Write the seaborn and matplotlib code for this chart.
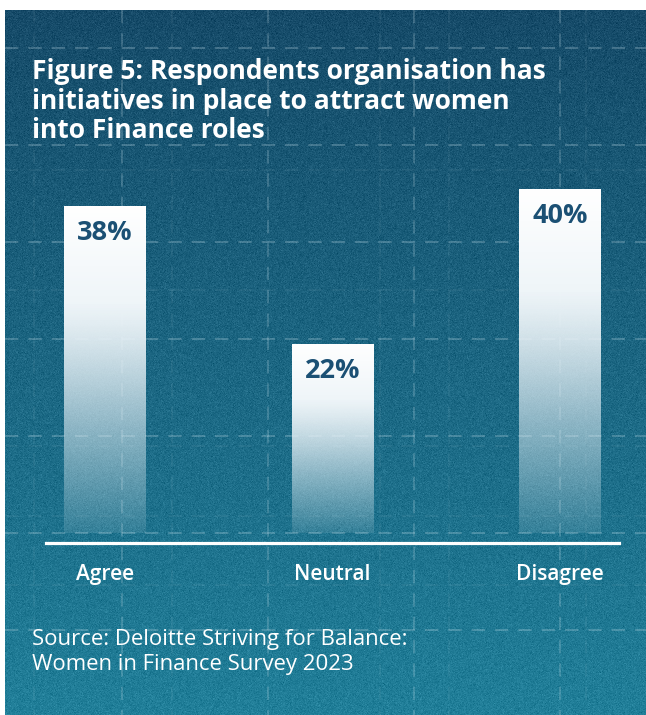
import numpy as np
import pandas as pd
import matplotlib
matplotlib.use("Agg")
import matplotlib.pyplot as plt
import seaborn as sns

# ---- data -------------------------------------------------------------
categories = ["Agree", "Neutral", "Disagree"]
shares = [38, 22, 40]
value_labels = ["38%", "22%", "40%"]
title_text = ("Figure 5: Respondents organisation has\n"
              "initiatives in place to attract women\n"
              "into Finance roles")
source_text = ("Source: Deloitte Striving for Balance:\n"
               "Women in Finance Survey 2023")

# ---- canvas -----------------------------------------------------------
W, H, DPI = 646, 715, 100
sns.set_theme(style="white")
plt.rcParams["font.family"] = ["Open Sans", "DejaVu Sans"]

fig = plt.figure(figsize=(W / DPI, H / DPI), dpi=DPI, facecolor="white")

# teal panel with a vertical gradient and fine grain
PX0, PY0 = 5, 10
bg = fig.add_axes([PX0 / W, 0, (W - PX0) / W, (H - PY0) / H])
bg.set_axis_off()
rows, cols = H - PY0, W - PX0
t = np.linspace(0, 1, rows)[:, None, None]
top = np.array([22, 74, 104]) / 255
bottom = np.array([33, 127, 153]) / 255
grad = top + (bottom - top) * t ** 0.9
rng = np.random.default_rng(7)
grain = rng.normal(0, 0.025, (rows, cols, 1))
panel = np.clip(np.broadcast_to(grad, (rows, cols, 3)) + grain, 0, 1)
bg.imshow(panel, extent=(PX0, W, H, PY0), aspect="auto", interpolation="nearest")

# dashed paper grid
grid_kw = dict(color="#cfe6f0", lw=1.2, dashes=(8, 6))
for gx in [122, 268, 414, 560]:
    bg.plot([gx, gx], [PY0, H], alpha=0.25, **grid_kw)
for gy in [48, 145, 242, 339, 436, 533, 630]:
    bg.plot([PX0, W], [gy, gy], alpha=0.30, **grid_kw)
for gx in [34, 172, 380, 449, 586]:
    bg.plot([gx, gx], [PY0, H], alpha=0.08, **grid_kw)
for gy in [170, 290, 446, 516, 585]:
    bg.plot([PX0, W], [gy, gy], alpha=0.08, **grid_kw)
bg.set_xlim(PX0, W)
bg.set_ylim(H, PY0)

# ---- bar chart --------------------------------------------------------
AX_L, AX_R, AX_T, AX_B = 46, 619, 150, 543
ax = fig.add_axes([AX_L / W, (H - AX_B) / H, (AX_R - AX_L) / W, (AX_B - AX_T) / H])
ax.patch.set_alpha(0)

df = pd.DataFrame({"category": categories, "share": shares})
sns.barplot(data=df, x="category", y="share", order=categories, width=0.36,
            color="white", saturation=1, ax=ax, linewidth=0)

# white-to-clear fill for each bar
n = 256
tt = np.linspace(0, 1, n)
tint = np.clip(tt / 0.7, 0, 1)[:, None]
rgb = np.array([1, 1, 1]) * (1 - tint) + np.array([0.85, 0.91, 0.94]) * tint
alpha = np.where(tt < 0.3, 1.0, 1 - 0.88 * ((tt - 0.3) / 0.7) ** 1.3)
fill = np.concatenate([rgb, alpha[:, None]], axis=1)[:, None, :].repeat(2, axis=1)
for patch in ax.patches:
    x0, y0 = patch.get_x(), patch.get_y()
    w, h = patch.get_width(), patch.get_height()
    patch.set_facecolor("none")
    im = ax.imshow(fill, extent=(x0, x0 + w, y0, y0 + h), origin="upper",
                   aspect="auto", interpolation="bilinear", zorder=2)
    im.set_clip_path(patch)

for i, (v, lab) in enumerate(zip(shares, value_labels)):
    ax.annotate(lab, xy=(i, v), xytext=(0, -27 * 72 / DPI), textcoords="offset points",
                ha="center", va="center", fontsize=19.5, fontweight="bold",
                color="#1b5074", zorder=3)

k = 8.6  # pixels per percentage point
ax.set_ylim(-(AX_B - 533) / k, (533 - AX_T) / k)
ax.set_xlim(-0.26, 2.26)
ax.set_xlabel("")
ax.set_ylabel("")
ax.set_yticks([])
ax.tick_params(axis="x", length=0, pad=15, labelsize=15, labelcolor="white")
for lab in ax.get_xticklabels():
    lab.set_fontweight("semibold")
for side in ["top", "left", "right"]:
    ax.spines[side].set_visible(False)
ax.spines["bottom"].set_color("white")
ax.spines["bottom"].set_linewidth(2.3)

# ---- texts ------------------------------------------------------------
fig.text(32 / W, 1 - 58 / H, title_text, ha="left", va="top", fontsize=19,
         fontweight="bold", color="white", linespacing=1.13)
fig.text(32 / W, 1 - 629 / H, source_text, ha="left", va="top", fontsize=15.9,
         color="white", linespacing=1.24)

fig.savefig("out.png", dpi=DPI, facecolor="white")
